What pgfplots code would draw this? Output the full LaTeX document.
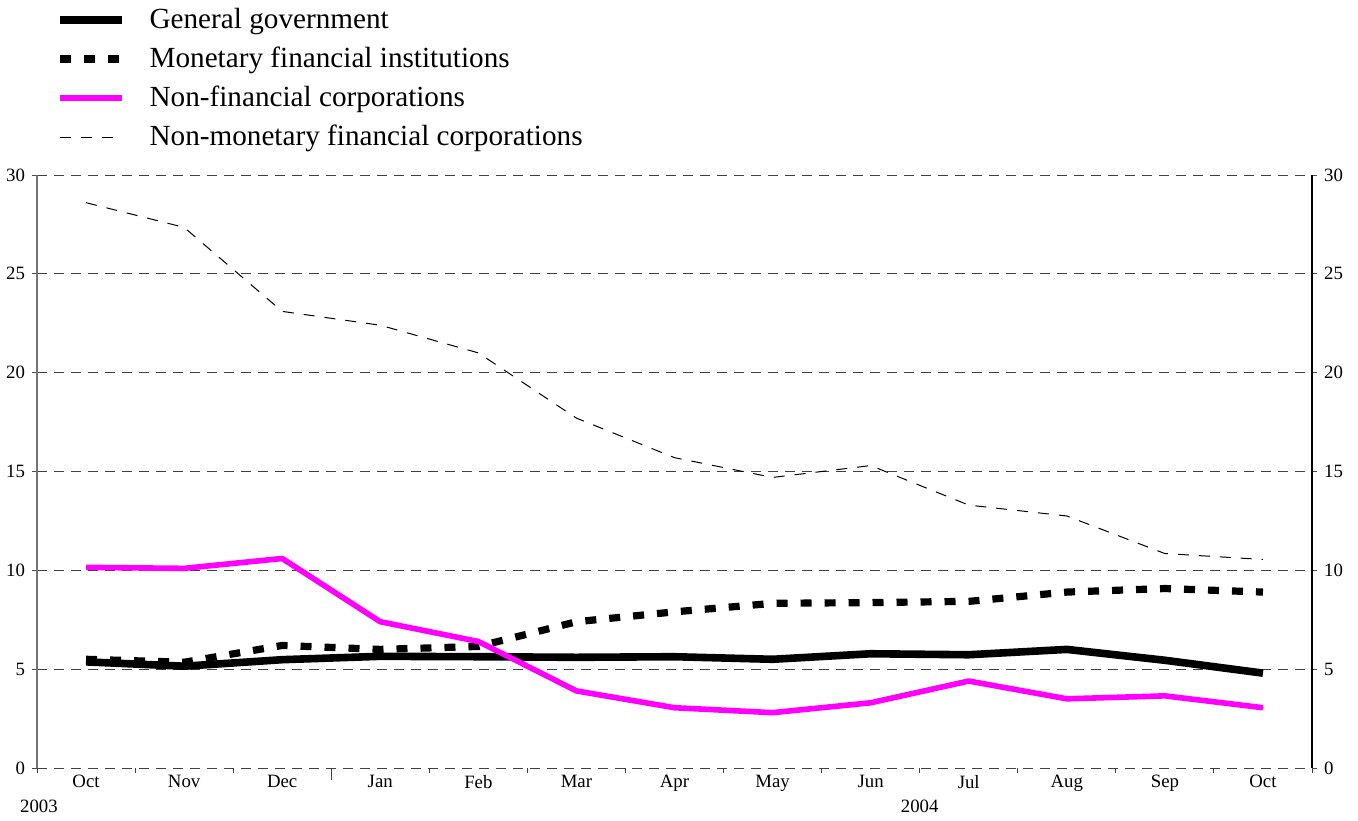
\documentclass[border=0pt]{standalone}
\usepackage{fontspec}
\setmainfont{Liberation Serif}
\usepackage{pgfplots}
\pgfplotsset{compat=1.18}
\definecolor{mag}{RGB}{255,0,255}
\begin{document}
\begin{tikzpicture}
\begin{axis}[name=ax, at={(0,0)}, anchor=south west, scale only axis,
  width=637.5pt, height=296.5pt,
  xmin=-0.5, xmax=12.5, ymin=0, ymax=30,
  clip=false,
  axis x line*=bottom, axis y line*=left,
  x axis line style={draw=none},
  y axis line style={draw=black!55, line width=0.6pt},
  xtick={0,...,12},
  xticklabels={Oct,Nov,Dec,Jan,Feb,Mar,Apr,May,Jun,Jul,Aug,Sep,Oct},
  major x tick style={draw=none},
  minor xtick={-0.5,0.5,...,12.5},
  minor tick length=2.5pt,
  minor x tick style={draw=black!75, line width=0.5pt},
  extra x ticks={2.5}, extra x tick labels={},
  extra x tick style={major tick length=6pt, major x tick style={draw=black!75, line width=0.5pt}, xmajorgrids=false},
  ytick={0,5,...,30},
  major y tick style={draw=black!70, line width=0.5pt},
  major tick length=2.5pt,
  tick align=outside,
  ymajorgrids,
  major grid style={dash pattern=on 5pt off 3.5pt, black!75, line width=0.5pt},
  tick label style={font=\fontsize{9.4}{11}\selectfont},
  /pgf/number format/assume math mode=true,
  xticklabel style={yshift=2.5pt},
  legend cell align=left,
  legend style={draw=none, fill=none, at={(rel axis cs:0,1)}, anchor=north west,
    xshift=9.5pt, yshift=84pt, inner sep=0pt, outer sep=0pt,
    font=\fontsize{14.6}{17}\selectfont,
    row sep=6.5pt, column sep=12pt,
    nodes={inner sep=0pt, outer sep=0pt, text height=10.5pt, text depth=2.5pt}},
  legend image code/.code={\draw[#1] (0pt,0pt) -- (31pt,0pt);},
]
\addplot[black, line width=3.8pt, line join=round] coordinates {
(0,5.37) (1,5.15) (2,5.48) (3,5.65) (4,5.63) (5,5.6) (6,5.63) (7,5.5) (8,5.78) (9,5.73) (10,6.0) (11,5.45) (12,4.8)};
\addlegendentry{General government}
\addplot[black, line width=3.6pt, dash pattern=on 5.5pt off 6.5pt] coordinates {
(0,5.5) (1,5.35) (2,6.2) (3,6.0) (4,6.15) (5,7.4) (6,7.9) (7,8.33) (8,8.37) (9,8.43) (10,8.9) (11,9.08) (12,8.9)};
\addlegendentry{Monetary financial institutions}
\addplot[mag, line width=2.8pt, line join=round] coordinates {
(0,10.15) (1,10.1) (2,10.6) (3,7.4) (4,6.4) (5,3.9) (6,3.05) (7,2.8) (8,3.3) (9,4.4) (10,3.5) (11,3.65) (12,3.05)};
\addlegendentry{Non-financial corporations}
\addplot[black, line width=0.5pt, dash pattern=on 5.5pt off 5pt] coordinates {
(0,28.6) (1,27.35) (2,23.1) (3,22.4) (4,21.0) (5,17.7) (6,15.7) (7,14.7) (8,15.3) (9,13.3) (10,12.75) (11,10.85) (12,10.55)};
\addlegendentry{Non-monetary financial corporations}
\node[font=\fontsize{9.4}{11}\selectfont, anchor=center] at (axis cs:-0.5,0) [yshift=-19pt, xshift=1pt] {2003};
\node[font=\fontsize{9.4}{11}\selectfont, anchor=center] at (axis cs:8.5,0) [yshift=-19pt] {2004};
\end{axis}
\begin{axis}[at={(0,0)}, anchor=south west, scale only axis,
  width=637.5pt, height=296.5pt,
  xmin=-0.5, xmax=12.5, ymin=0, ymax=30,
  axis x line=none, axis y line*=right,
  y axis line style={draw=black, line width=0.6pt},
  ytick={0,5,...,30},
  major y tick style={draw=black!70, line width=0.5pt},
  major tick length=2.5pt,
  tick align=outside,
  tick label style={font=\fontsize{9.4}{11}\selectfont},
  /pgf/number format/assume math mode=true,
]
\end{axis}
\pgfresetboundingbox
\path[use as bounding box] (-18.5pt,-26pt) rectangle (660.5pt,384pt);
\end{tikzpicture}
\end{document}
